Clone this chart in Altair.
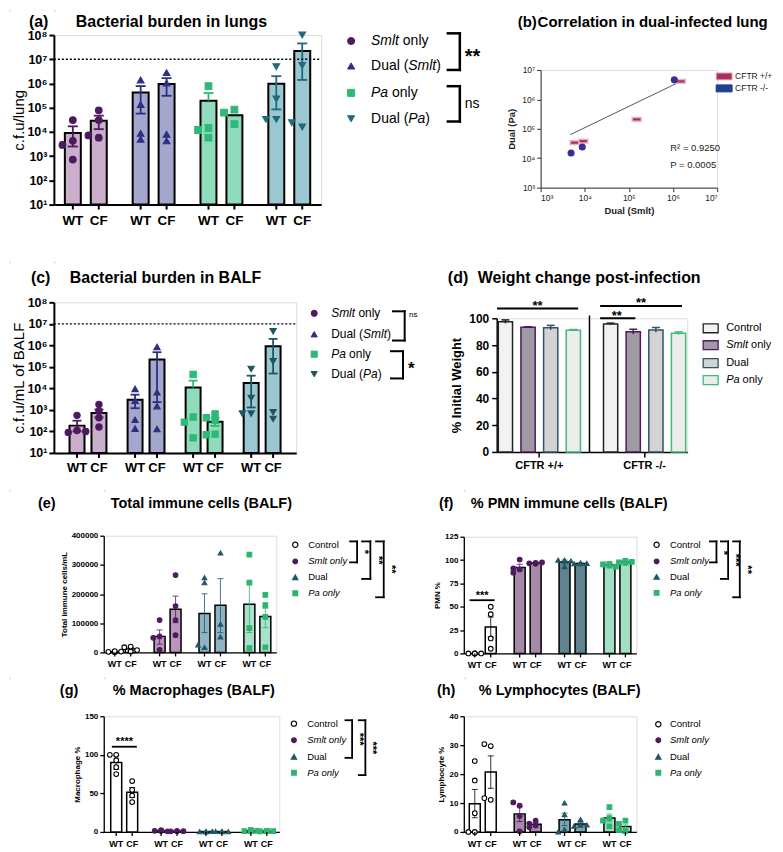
import math
import altair as alt
import pandas as pd

FONT = "Liberation Sans"
GENOS = ["WT", "CF"]

# ---------------- (a) bacterial burden in lungs ----------------
A_GROUPS = ["Smlt only", "Dual (Smlt)", "Pa only", "Dual (Pa)"]
A_MEAN = [9.1e3, 2.9e4, 4.2e5, 9.5e5, 1.95e5, 4.9e4, 9.8e5, 2.2e7]
A_LO = [2.5e3, 1.3e4, 5.7e4, 3.1e5, None, None, 8.5e4, 1.4e6]
A_HI = [1.7e4, 4.7e4, 7.8e5, 1.66e6, 4.0e5, None, 2.0e6, 4.5e7]
A_PTS = [[3.1e4, 4.3e3, 2.9e3, 7.2e2], [7.8e4, 3.1e4, 5.8e3, 7.2e3],
         [1.4e6, 1.35e5, 5.0e3, 8.7e3], [2.8e6, 1.05e6, 4.3e3, 8.0e3],
         [7.8e5, 1.45e4, 1.2e4, 5.8e3], [8.3e4, 6.2e4, 2.1e4],
         [4.9e6, 2.3e5, 3.3e4, 3.3e4], [1.0e8, 5.6e6, 1.6e4, 2.4e4]]

# ---------------- (b) correlation ----------------
B_WT_X = [5.9e3, 9.3e3, 1.5e5, 1.5e6]
B_WT_Y = [3.4e4, 3.8e4, 2.1e5, 4.1e6]
B_KO_X = [4.9e3, 8.8e3, 1.07e6]
B_KO_Y = [1.5e4, 2.4e4, 4.6e6]
B_FIT_X = [4.7e3, 1.35e6]
B_FIT_Y = [6.3e4, 3.8e6]

# ---------------- (c) bacterial burden in BALF ----------------
C_MEAN = [186, 720, 3.0e3, 2.2e5, 1.1e4, 280, 1.8e4, 9.1e5]
C_LO = [100, 450, 1.2e3, 2.3e3, None, 180, 1.3e3, 4.9e4]
C_HI = [316, 1.05e3, 5.1e3, 4.8e5, 2.3e4, 420, 3.9e4, 2.0e6]
C_PTS = [[560, 110, 90, 100], [1.8e3, 870, 430, 160], [9.5e3, 2.7e3, 350, 135],
         [8.5e5, 6.6e3, 1.5e3, 130], [4.4e4, 470, 270, 50], [650, 430, 330, 75, 70],
         [8.0e4, 3.6e3, 670, 670], [4.5e6, 1.8e5, 380, 780]]

# ---------------- (d) weight change ----------------
D_GROUPS = ["CFTR +/+", "CFTR -/-"]
D_TREAT = ["Control", "Smlt only", "Dual", "Pa only"]
D_MEAN = [97.5, 93.3, 93.0, 91.0, 95.8, 90.0, 91.3, 88.8]
D_SEM = [1.3, 0.4, 1.7, 0.6, 0.6, 1.8, 1.8, 1.0]

# ---------------- (e)-(h) immune cells ----------------
IMM_GROUPS = ["Control", "Smlt only", "Dual", "Pa only"]
E_MEAN = [2600, 12000, 55000, 148000, 133000, 162000, 165000, 123000]
E_LO = [1800, 7000, 28400, 102000, 68000, 68000, 68000, 85000]
E_HI = [3400, 17000, 77000, 193000, 201000, 253000, 239000, 151000]
E_PTS = [[1000, 2000, 3000, 4500], [20000, 18000, 8000, 3000],
         [111000, 55000, 50000, 9000], [265000, 159000, 111000, 59000],
         [239000, 256000, 17000, 26000], [341000, 96600, 53400],
         [335000, 239000, 83000, 14800], [197000, 162000, 122000, 17000]]

F_MEAN = [0, 28.3, 92, 96.8, 98, 96.4, 94.6, 97.9]
F_LO = [0, 17.7, 89, 96.4, 96, 95.9, 93.9, 97.4]
F_HI = [0, 38.9, 95.5, 97.2, 100, 96.9, 95.3, 98.4]
F_PTS = [[0, 0, 0, 0], [50, 42, 16, 5], [100.5, 90, 91, 86.5], [97, 96.5, 97.5, 96],
         [100, 100, 93, 99], [97, 96, 96.5, 96], [96, 95.5, 93, 94], [99, 97.5, 98, 97]]

G_MEAN = [90, 51.6, 1.5, 1.0, 0.5, 0.5, 1.5, 1.0]
G_LO = [81.2, 44.7, 1.0, 0.8, 0.3, 0.3, 1.0, 0.8]
G_HI = [99.0, 57.6, 2.0, 1.2, 0.7, 0.7, 2.0, 1.2]
G_PTS = [[100, 100, 93, 84, 75], [66, 54.6, 47.3, 38.7], [2.5, 1.5, 0.8, 1.2],
         [1.2, 0.8, 1.0, 1.0], [0.5, 0.3, 0.8, 0.4], [0.5, 0.6, 0.3, 0.6],
         [2.5, 1.0, 1.5, 1.0], [1.2, 0.8, 1.0, 1.0]]

H_MEAN = [9.76, 20.7, 6.25, 2.65, 4.2, 2.75, 4.8, 1.9]
H_LO = [4.9, 15.1, 3.6, 2.1, 2.2, 2.2, 3.5, 1.1]
H_HI = [14.7, 26.3, 8.9, 3.2, 6.5, 3.3, 6.2, 2.7]
H_PTS = [[24.5, 17.8, 6.5, 0, 0], [29.7, 30.4, 11.1, 11.7], [9.1, 10.2, 5.5, 0.2],
         [3.9, 2.9, 2.2, 1.6], [10, 6, 0.8, 0], [4.3, 2.3, 2.0, 2.4],
         [8.6, 4.8, 3.9, 1.9], [3.9, 2.8, 0.3, 0.6]]

# ---------------- styles ----------------
A_BAR = ["#c9afcb", "#a3a6cd", "#8fdcbd", "#9ac7d0"]
A_PT = ["#4d1a5e", "#2f2f80", "#2fb877", "#1f6a7c"]
C_PT = ["#4d1a5e", "#2f2f80", "#2fb877", "#1e5563"]
AC_SHAPES = ["circle", "triangle-up", "square", "triangle-down"]
IMM_SHAPES = ["circle", "circle", "triangle-up", "square"]
IMM_PT_FILL = ["#ffffff", "#4d1a5e", "#1f5868", "#2db56f"]
IMM_PT_STROKE = ["#000000", "#4d1a5e", "#1f5868", "#2db56f"]
E_BAR = ["#ffffff", "#b994bb", "#8fb3c2", "#a9e2c8"]
F_BAR = ["#ffffff", "#a688a8", "#5f8390", "#a4dec3"]
G_BAR = ["#ffffff", "#a888ab", "#7ea2b0", "#a6e0c4"]
D_FILL = ["#f2f2f2", "#a09aa2", "#d3d3d3", "#ececec"]
D_STROKE = ["#222222", "#4d1a5e", "#2f5565", "#3dbb7a"]

SUP = "['\u2070','\u00b9','\u00b2','\u00b3','\u2074','\u2075','\u2076','\u2077','\u2078','\u2079']"
LOGLAB = "'10' + " + SUP + "[round(log(datum.value)/LN10)]"

ONE = pd.DataFrame({"k": [0]})
RIGHT = 765

CW = {' ': 278, '(': 333, ')': 333, 'a': 556, 'b': 556, 'c': 500, 'd': 556, 'e': 556, 'f': 278,
      'g': 556, 'h': 556, 'i': 222, 'l': 222, 'm': 833, 'n': 556, 'o': 556, 'p': 556, 'r': 333,
      's': 500, 't': 278, 'u': 556, 'y': 500, 'C': 722, 'D': 722, 'P': 667, 'S': 667}


def tw(s, size):
    return sum(CW.get(c, 556) for c in s) / 1000.0 * size


def T(text, x, y, size, weight="normal", style="normal", align="left", angle=None, color="black"):
    kw = dict(text=text, fontSize=size, fontWeight=weight, fontStyle=style, align=align,
              baseline="middle", color=color, font=FONT)
    if angle is not None:
        kw["angle"] = angle
    return alt.Chart(ONE).mark_text(**kw).encode(x=alt.value(x), y=alt.value(y))


def L(x1, y1, x2, y2, w=1.5, color="black", dash=None):
    kw = dict(strokeWidth=w, color=color, strokeCap="square")
    if dash:
        kw["strokeDash"] = dash
        kw["strokeCap"] = "butt"
    return alt.Chart(ONE).mark_rule(**kw).encode(
        x=alt.value(x1), y=alt.value(y1), x2=alt.value(x2), y2=alt.value(y2))


def bracket(xl, xv, y1, y2, w):
    return [L(xl, y1, xv, y1, w), L(xv, y1, xv, y2, w), L(xl, y2, xv, y2, w)]


def M(x, y, shape, fill, stroke, size, sw=1.0):
    return alt.Chart(ONE).mark_point(shape=shape, filled=True, fill=fill, stroke=stroke,
                                     strokeWidth=sw, size=size, opacity=1).encode(
        x=alt.value(x), y=alt.value(y))


def R(x1, y1, x2, y2, fill, stroke, sw=1.2):
    return alt.Chart(ONE).mark_rect(fill=fill, stroke=stroke, strokeWidth=sw).encode(
        x=alt.value(x1), x2=alt.value(x2), y=alt.value(y1), y2=alt.value(y2))


def cell(ox, oy, x0, y0, x1, y1):
    # invisible rectangle that fixes the panel's extent (its layout cell)
    return alt.Chart(ONE).mark_rect(opacity=0).encode(
        x=alt.value(x0 - ox), x2=alt.value(x1 - ox), y=alt.value(y0 - oy), y2=alt.value(y1 - oy))


def label(segs, x, y, size):
    out, cx = [], x
    for t, st in segs:
        lead = len(t) - len(t.lstrip(" "))
        cx += tw(" " * lead, size)
        body = t.lstrip(" ")
        out.append(T(body, cx, y, size, style=st))
        cx += tw(body, size)
    return out


def spread(vals, ypix, diam, slotw):
    placed, out = [], []
    for v in vals:
        py = ypix(v)
        choice = 0
        for sl in (0, -1, 1, -2, 2):
            ok = True
            for q, s2 in placed:
                if abs(py - q) < diam * 0.75 and abs(sl - s2) * slotw < diam * 0.75:
                    ok = False
                    break
            if ok:
                choice = sl
                break
        placed.append((py, choice))
        out.append(choice)
    return out


def bar_panel(groups, means, los, his, pts, W, H, log, dom, tickvals, ytitle, d, s, barw,
              bar_fill, pt_fill, pt_stroke, shapes, pt_size, ax_w, lab_size, ytitle_size,
              ytitle_weight, ypad, xlab_size, xlab_dy, err_w, cap_w, err_op, bar_sw, tick_size,
              yfmt=None, diam=6):
    pi = 1 - 2.0 * d / s
    po = max(0.0, (W / s - len(groups) + pi) / 2)
    xs = alt.Scale(type="band", domain=groups, paddingInner=pi, paddingOuter=po)
    xenc = alt.X("group:N", scale=xs, axis=alt.Axis(labels=False, ticks=False, title=None,
                                                   domainColor="black", domainWidth=ax_w, grid=False))
    slots = [g + c for g in GENOS for c in "abcde"]
    xo = alt.XOffset("slot:N", scale=alt.Scale(type="band", domain=slots, paddingInner=0, paddingOuter=0))
    if log:
        ys = alt.Scale(type="log", domain=dom)
        lmin, lmax = math.log10(dom[0]), math.log10(dom[1])
        ypix = lambda v: H * (1 - (math.log10(v) - lmin) / (lmax - lmin))
    else:
        ys = alt.Scale(domain=dom, nice=False, zero=True)
        ypix = lambda v: H * (1 - v / dom[1])
    akw = dict(values=tickvals, title=ytitle, domainColor="black", domainWidth=ax_w,
               tickColor="black", tickWidth=ax_w, tickSize=tick_size, labelFont=FONT,
               labelFontSize=lab_size, labelFontWeight="bold", labelColor="black",
               titleFont=FONT, titleFontSize=ytitle_size, titleFontWeight=ytitle_weight,
               titleColor="black", titlePadding=ypad, labelPadding=2, grid=False)
    if log:
        akw["labelExpr"] = LOGLAB
    if yfmt:
        akw["format"] = yfmt
    yax = alt.Axis(**akw)

    def Y(f):
        return alt.Y(f + ":Q", scale=ys, axis=yax)

    rows, prow = [], []
    slotw = 2.0 * d / 10
    for gi, g in enumerate(groups):
        for ki, k in enumerate(GENOS):
            i = gi * 2 + ki
            rows.append(dict(group=g, geno=k, slot=k + "c", mean=means[i], lo=los[i], hi=his[i],
                             base=dom[0]))
            vals = pts[i]
            sl = spread(vals, ypix, diam, slotw)
            for v, q in zip(vals, sl):
                prow.append(dict(group=g, slot=k + "abcde"[q + 2], value=v))
    bdf = pd.DataFrame(rows)
    bdf["lo"] = pd.to_numeric(bdf["lo"])
    bdf["hi"] = pd.to_numeric(bdf["hi"])
    edf = bdf[bdf["hi"].notna()].copy()
    edf["elo"] = edf["lo"].fillna(edf["mean"])
    ldf = bdf[bdf["lo"].notna()].copy()
    pdf = pd.DataFrame(prow)

    stroke_enc = alt.Stroke("group:N", scale=alt.Scale(domain=groups, range=pt_stroke), legend=None)
    layers = [
        alt.Chart(bdf).mark_bar(width=barw, stroke="black", strokeWidth=bar_sw, opacity=1).encode(
            x=xenc, xOffset=xo, y=Y("mean"), y2=alt.Y2("base:Q"),
            color=alt.Color("group:N", scale=alt.Scale(domain=groups, range=bar_fill), legend=None)),
        alt.Chart(edf).mark_rule(strokeWidth=err_w, opacity=err_op).encode(
            x=xenc, xOffset=xo, y=Y("elo"), y2=alt.Y2("hi:Q"), stroke=stroke_enc),
        alt.Chart(edf).mark_point(shape="M-1,0L1,0", filled=False, size=cap_w ** 2,
                                  strokeWidth=err_w, opacity=err_op).encode(
            x=xenc, xOffset=xo, y=Y("hi"), stroke=stroke_enc),
        alt.Chart(ldf).mark_point(shape="M-1,0L1,0", filled=False, size=cap_w ** 2,
                                  strokeWidth=err_w, opacity=err_op).encode(
            x=xenc, xOffset=xo, y=Y("lo"), stroke=stroke_enc),
        alt.Chart(pdf).mark_point(filled=True, size=pt_size, strokeWidth=1.1, opacity=1).encode(
            x=xenc, xOffset=xo, y=Y("value"),
            fill=alt.Fill("group:N", scale=alt.Scale(domain=groups, range=pt_fill), legend=None),
            stroke=stroke_enc,
            shape=alt.Shape("group:N", scale=alt.Scale(domain=groups, range=shapes), legend=None)),
        alt.Chart(bdf).mark_rule(color="black", strokeWidth=ax_w).encode(
            x=xenc, xOffset=xo, y=alt.value(H), y2=alt.value(H + tick_size)),
        alt.Chart(bdf).mark_text(font=FONT, fontSize=xlab_size, fontWeight="bold",
                                 baseline="middle", color="black").encode(
            x=xenc, xOffset=xo, y=alt.value(H + xlab_dy), text="geno:N"),
    ]
    return layers, ypix


AC_SEGS = [[("Smlt", "italic"), (" only", "normal")],
           [("Dual (", "normal"), ("Smlt", "italic"), (")", "normal")],
           [("Pa", "italic"), (" only", "normal")],
           [("Dual (", "normal"), ("Pa", "italic"), (")", "normal")]]


# ================= panel (a) =================
def panel_a():
    ox, oy, W, H = 47, 31, 268, 170
    layers, ypix = bar_panel(A_GROUPS, A_MEAN, A_LO, A_HI, A_PTS, W, H, True, [10, 1e8],
                             [10 ** k for k in range(1, 9)], "c.f.u/lung", 26, 68, 16,
                             A_BAR, A_PT, A_PT, AC_SHAPES, 45, 2, 12.5, 15, "normal", 0,
                             13.5, 16, 1.8, 10, 1, 2, 5, diam=7)
    extra = [cell(ox, oy, 9, 9, 485, 256),
             L(0, ypix(1e7), W, ypix(1e7), 1.3, dash=[2, 2])]
    extra += [T("(a)", -25, -13, 16, "bold"), T("Bacterial burden in lungs", 22, -13, 16, "bold")]
    rows = [6, 31, 58, 84]
    for i in range(4):
        extra.append(M(298, rows[i], AC_SHAPES[i], A_PT[i], A_PT[i], 50))
        extra += label(AC_SEGS[i], 318, rows[i], 14)
    extra += bracket(395, 407, -1.7, 35, 2.5) + bracket(395, 407, 51.3, 86.7, 2.5)
    extra += [T("**", 412, 22, 20, "bold"), T("ns", 412, 69, 14)]
    return alt.layer(*(layers + extra)).properties(width=W, height=H)


# ================= panel (b) =================
def panel_b():
    ox, oy, W, H = 533, 66, 177, 118
    xs = alt.Scale(type="log", domain=[1e3, 1e7])
    ys = alt.Scale(type="log", domain=[1e3, 1e7])
    akw = dict(values=[1e3, 1e4, 1e5, 1e6, 1e7], labelExpr=LOGLAB, domainColor="#333",
               domainWidth=1, tickColor="#333", tickWidth=1, tickSize=4, labelFont=FONT,
               labelFontSize=8.5, labelColor="#222", titleFont=FONT, titleFontSize=9.5,
               titleFontWeight="bold", titleColor="#222", grid=False, labelPadding=2)
    xax = alt.Axis(title="Dual (Smlt)", titlePadding=3, **akw)
    yax = alt.Axis(title="Dual (Pa)", titlePadding=5, **akw)
    X = alt.X("x:Q", scale=xs, axis=xax)
    Yq = alt.Y("y:Q", scale=ys, axis=yax)
    wt = pd.DataFrame({"x": B_WT_X, "y": B_WT_Y})
    ko = pd.DataFrame({"x": B_KO_X, "y": B_KO_Y})
    fit = pd.DataFrame({"x": B_FIT_X, "y": B_FIT_Y})
    layers = [
        cell(ox, oy, 485, 9, RIGHT, 256),
        alt.Chart(fit).mark_line(color="#555555", strokeWidth=1).encode(x=X, y=Yq),
        alt.Chart(wt).mark_point(shape="M-1,-0.42L1,-0.42L1,0.42L-1,0.42Z", filled=True,
                                 fill="#a8325f", stroke="#e8b4c8", strokeWidth=1.5, size=81,
                                 opacity=1).encode(x=X, y=Yq),
        alt.Chart(ko).mark_point(shape="circle", filled=True, fill="#3a2d99", stroke="#3a2d99",
                                 size=26, opacity=1).encode(x=X, y=Yq),
        T("(b)", -23, -48, 15, "bold"), T("Correlation in dual-infected lung", -3, -48, 15, "bold"),
        R(176, 3, 192, 10, "#a8325f", "#e8b4c8", 1), R(176, 15, 192, 22, "#1f3f8f", "#1f3f8f", 1),
        T("CFTR +/+", 195, 6.5, 8.5, color="#222"), T("CFTR -/-", 195, 18.5, 8.5, color="#222"),
        T("R\u00b2 = 0.9250", 130, 78, 9.5, color="#222"), T("P = 0.0005", 130, 95, 9.5, color="#222"),
    ]
    return alt.layer(*layers).properties(width=W, height=H)


# ================= panel (c) =================
def panel_c():
    ox, oy, W, H = 45, 296, 243, 151
    layers, ypix = bar_panel(A_GROUPS, C_MEAN, C_LO, C_HI, C_PTS, W, H, True, [10, 1e8],
                             [10 ** k for k in range(1, 9)], "c.f.u/mL of BALF", 22, 58.2, 15,
                             A_BAR, C_PT, C_PT, AC_SHAPES, 40, 2, 12.5, 15, "normal", 0,
                             13, 15, 1.8, 9, 1, 2, 5, diam=7)
    extra = [cell(ox, oy, 9, 258, 431, 482),
             L(0, ypix(1e7), W, ypix(1e7), 1.3, dash=[2, 2])]
    extra += [T("(c)", -23, -24, 16, "bold"), T("Bacterial burden in BALF", 16, -24, 16, "bold")]
    rows = [11, 32, 52, 72]
    for i in range(4):
        extra.append(M(261, rows[i], AC_SHAPES[i], C_PT[i], C_PT[i], 38))
        extra += label(AC_SEGS[i], 278, rows[i], 12)
    extra += bracket(340, 351.7, 9, 38.3, 2) + bracket(338, 350, 49, 76.3, 2)
    extra += [T("ns", 356, 13, 8), T("*", 355, 67, 17, "bold")]
    return alt.layer(*(layers + extra)).properties(width=W, height=H)


# ================= panel (d) =================
def panel_d():
    ox, oy, W, H = 487, 312, 191, 134
    rows = []
    for gi, g in enumerate(D_GROUPS):
        for ti, t in enumerate(D_TREAT):
            i = gi * 4 + ti
            rows.append(dict(grp=g, treat=t, mean=D_MEAN[i], lo=D_MEAN[i] - D_SEM[i],
                             hi=D_MEAN[i] + D_SEM[i], base=0))
    df = pd.DataFrame(rows)
    xenc = alt.X("grp:N", scale=alt.Scale(type="band", domain=D_GROUPS, paddingInner=0.219, paddingOuter=0.015),
                 axis=alt.Axis(title=None, labelAngle=0, labelFont=FONT, labelFontSize=11,
                               labelFontWeight="bold", labelColor="black", tickSize=5, tickWidth=1.5,
                               tickColor="black", domainWidth=1.5, domainColor="black", labelPadding=3))
    xo = alt.XOffset("treat:N", scale=alt.Scale(type="band", domain=D_TREAT, paddingInner=0.372, paddingOuter=0))
    ys = alt.Scale(domain=[0, 100], nice=False)
    yax = alt.Axis(values=[0, 20, 40, 60, 80, 100], title="% Initial Weight", domainColor="black",
                   domainWidth=1.5, tickColor="black", tickWidth=1.5, tickSize=5, labelFont=FONT,
                   labelFontSize=12, labelFontWeight="bold", labelColor="black", titleFont=FONT,
                   titleFontSize=13, titleFontWeight="bold", titleColor="black", titlePadding=5,
                   labelPadding=3, grid=False)
    stroke_enc = alt.Stroke("treat:N", scale=alt.Scale(domain=D_TREAT, range=D_STROKE), legend=None)
    layers = [
        alt.Chart(df).mark_bar(strokeWidth=1.5, opacity=1).encode(
            x=xenc, xOffset=xo, y=alt.Y("mean:Q", scale=ys, axis=yax), y2=alt.Y2("base:Q"),
            color=alt.Color("treat:N", scale=alt.Scale(domain=D_TREAT, range=D_FILL), legend=None),
            stroke=stroke_enc),
        alt.Chart(df).mark_rule(strokeWidth=1.5).encode(
            x=xenc, xOffset=xo, y=alt.Y("lo:Q", scale=ys, axis=yax), y2=alt.Y2("hi:Q"), stroke=stroke_enc),
        alt.Chart(df).mark_point(shape="M-1,0L1,0", filled=False, size=64, strokeWidth=1.5, opacity=1).encode(
            x=xenc, xOffset=xo, y=alt.Y("hi:Q", scale=ys, axis=yax), stroke=stroke_enc),
        cell(ox, oy, 431, 258, RIGHT, 482),
        L(93, -2, 93, H, 1.5),
        L(1.3, -9.7, 80.7, -9.7, 2), T("**", 41, -12, 13, "bold", align="center"),
        L(104.7, -12.3, 184.7, -12.3, 2), T("**", 144.7, -15, 13, "bold", align="center"),
        L(104.7, 0, 138, 0, 2), T("**", 120.3, -2.5, 13, "bold", align="center"),
        T("(d)", -49, -40, 16, "bold"), T("Weight change post-infection", -19, -40, 16, "bold"),
    ]
    rowsy = [10, 27, 45, 62]
    segs = [[("Control", "normal")], [("Smlt", "italic"), (" only", "normal")],
            [("Dual", "normal")], [("Pa", "italic"), (" only", "normal")]]
    for i in range(4):
        layers.append(R(207, rowsy[i] - 4.5, 222, rowsy[i] + 4.5, D_FILL[i], D_STROKE[i], 1.3))
        layers += label(segs[i], 230, rowsy[i], 11)
    return alt.layer(*layers).properties(width=W, height=H)


# ================= panels (e)-(h) =================
IMM_SEGS = [[("Control", "normal")], [("Smlt only", "italic")], [("Dual", "normal")], [("Pa only", "italic")]]
IMM_SIZES = [28, 22, 28, 22]


def imm_panel(means, los, his, pts, bar_fill, W, H, dom, ticks, ytitle, yfmt, ox, oy, cellbox,
              tag, title, tag_x, title_x, title_y, leg_x, lab_x, rows):
    layers, ypix = bar_panel(IMM_GROUPS, means, los, his, pts, W, H, False, dom, ticks, ytitle,
                             16, 45, 11, bar_fill, IMM_PT_FILL, IMM_PT_STROKE, IMM_SHAPES, 22,
                             1.3, 8, 8, "bold", 3, 9, 12, 1.0, 6, 0.8, 1.5, 4, yfmt=yfmt, diam=5)
    extra = [cell(ox, oy, *cellbox), T(tag, tag_x, title_y, 14.5, "bold"),
             T(title, title_x, title_y, 14.5, "bold")]
    for i in range(4):
        extra.append(M(leg_x, rows[i], IMM_SHAPES[i], IMM_PT_FILL[i], IMM_PT_STROKE[i], IMM_SIZES[i], 1.2))
        extra += label(IMM_SEGS[i], lab_x, rows[i], 9.5)
    return layers, extra, ypix


def panel_e():
    ox, oy, W, H = 101, 526, 173, 117
    layers, extra, ypix = imm_panel(E_MEAN, E_LO, E_HI, E_PTS, E_BAR, W, H, [0, 400000],
                                    [0, 100000, 200000, 300000, 400000], "Total immune cells/mL", "d",
                                    ox, oy, (9, 483, 425, 666), "(e)", "Total immune cells (BALF)",
                                    -66, 7, -32, 192, 205, [9, 25.7, 41.7, 57.7])
    extra += bracket(247, 254, 5.7, 26.7, 1.8) + bracket(259, 267.3, 5.7, 43.3, 1.8) + \
        bracket(273, 280.7, 5.7, 61.7, 1.8)
    extra += [T("*", 261, 16.3, 11, "bold", align="center", angle=90),
              T("**", 274.5, 24.5, 11, "bold", align="center", angle=90),
              T("**", 288, 33.7, 11, "bold", align="center", angle=90)]
    return alt.layer(*(layers + extra)).properties(width=W, height=H)


def panel_f():
    ox, oy, W, H = 460, 527, 173, 117
    layers, extra, ypix = imm_panel(F_MEAN, F_LO, F_HI, F_PTS, F_BAR, W, H, [0, 125],
                                    [0, 25, 50, 75, 100, 125], "PMN %", None,
                                    ox, oy, (425, 483, RIGHT, 666), "(f)", "% PMN immune cells (BALF)",
                                    -25, 7, -33, 193.3, 206.7, [8, 24.7, 40.3, 56.3])
    extra += bracket(246.7, 253.3, 4.7, 25.7, 1.8) + bracket(257.7, 265, 4.7, 42.3, 1.8) + \
        bracket(270, 276.7, 4.7, 60.7, 1.8)
    extra += [T("*", 260, 16.3, 11, "bold", align="center", angle=90),
              T("***", 272, 23.5, 11, "bold", align="center", angle=90),
              T("**", 284, 33, 11, "bold", align="center", angle=90)]
    extra += [L(6.7, ypix(57), 30, ypix(57), 1.8), T("***", 18.3, ypix(62), 11, "bold", align="center")]
    return alt.layer(*(layers + extra)).properties(width=W, height=H)


def panel_g():
    ox, oy, W, H = 101, 703, 176, 116
    layers, extra, ypix = imm_panel(G_MEAN, G_LO, G_HI, G_PTS, G_BAR, W, H, [0, 150],
                                    [0, 50, 100, 150], "Macrophage %", None,
                                    ox, oy, (9, 667, 425, 838), "(g)", "% Macrophages (BALF)",
                                    -44, 9, -25, 190.7, 204, [7.4, 24, 40.7, 56.7])
    extra += bracket(242.3, 249, 4, 41.7, 1.8) + bracket(255.7, 262.3, 4, 59, 1.8)
    extra += [T("***", 255.5, 23, 11, "bold", align="center", angle=90),
              T("***", 269, 31.7, 11, "bold", align="center", angle=90)]
    extra += [L(9, ypix(110.5), 32.3, ypix(110.5), 1.8),
              T("****", 20.7, ypix(116), 11, "bold", align="center")]
    return alt.layer(*(layers + extra)).properties(width=W, height=H)


def panel_h():
    ox, oy, W, H = 460, 703, 173, 116
    layers, extra, ypix = imm_panel(H_MEAN, H_LO, H_HI, H_PTS, G_BAR, W, H, [0, 40],
                                    [0, 10, 20, 30, 40], "Lymphocyte %", None,
                                    ox, oy, (425, 667, RIGHT, 838), "(h)", "% Lymphocytes (BALF)",
                                    -27, 15, -25, 195, 206.7, [8, 24, 40.7, 56.7])
    return alt.layer(*(layers + extra)).properties(width=W, height=H)


RES = dict(color="independent", fill="independent", stroke="independent",
           shape="independent", xOffset="independent")


def spacer():
    return alt.Chart(ONE).mark_rect(opacity=0).encode(
        x=alt.value(0), x2=alt.value(1), y=alt.value(0), y2=alt.value(1)).properties(width=1, height=1)


def wrap(p):
    return alt.vconcat(spacer(), p, spacing=0).resolve_scale(**RES)


def row(left, right):
    return alt.hconcat(spacer(), wrap(left), wrap(right), spacing=0).resolve_scale(**RES)


chart = alt.vconcat(row(panel_a(), panel_b()), row(panel_c(), panel_d()),
                    row(panel_e(), panel_f()), row(panel_g(), panel_h()),
                    spacing=0).resolve_scale(**RES).properties(padding=0) \
    .configure_view(stroke=None).configure(font=FONT)

chart.save("out.html", embed_options={"renderer": "svg", "actions": False})
